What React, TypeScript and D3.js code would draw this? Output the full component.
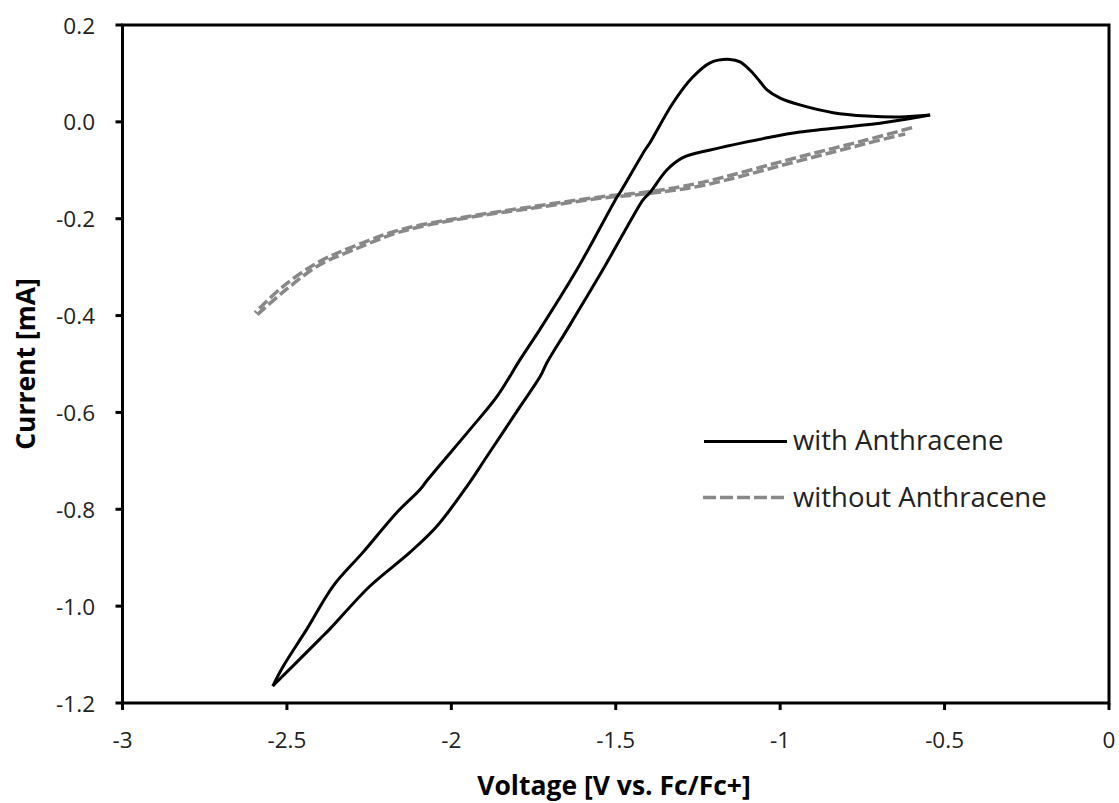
import React from "react";
import * as d3 from "d3";

const xTicks = [-3, -2.5, -2, -1.5, -1, -0.5, 0];
const yTicks = [0.2, 0.0, -0.2, -0.4, -0.6, -0.8, -1.0, -1.2];

// with Anthracene: forward scan (right end -> vertex)
const withFwdV = [-0.544, -0.687, -0.94, -1.04, -1.213, -1.296, -1.344, -1.396, -1.417, -1.448, -1.539, -1.648, -1.709, -1.73, -1.791, -1.892, -1.953, -2.044, -2.126, -2.248, -2.369, -2.4, -2.543];
const withFwdI = [0.014, -0.002, -0.021, -0.033, -0.058, -0.074, -0.099, -0.146, -0.161, -0.196, -0.305, -0.429, -0.497, -0.526, -0.588, -0.691, -0.753, -0.835, -0.889, -0.959, -1.047, -1.068, -1.165];
// with Anthracene: reverse scan (vertex -> right end)
const withRevV = [-2.543, -2.513, -2.439, -2.36, -2.269, -2.165, -2.095, -2.071, -1.943, -1.861, -1.791, -1.731, -1.618, -1.496, -1.487, -1.411, -1.396, -1.326, -1.265, -1.213, -1.153, -1.122, -1.092, -1.061, -1.04, -1.0, -0.94, -0.839, -0.736, -0.636, -0.544];
const withRevI = [-1.165, -1.126, -1.047, -0.959, -0.889, -0.806, -0.759, -0.738, -0.635, -0.567, -0.491, -0.429, -0.305, -0.155, -0.146, -0.058, -0.043, 0.039, 0.093, 0.122, 0.129, 0.124, 0.107, 0.083, 0.066, 0.049, 0.035, 0.019, 0.012, 0.01, 0.014];

// without Anthracene
const woFwdV = [-0.599, -0.736, -0.94, -1.244, -1.396, -1.548, -1.752, -1.953, -2.156, -2.308, -2.408, -2.512, -2.597];
const woFwdI = [-0.012, -0.037, -0.072, -0.126, -0.144, -0.155, -0.175, -0.196, -0.223, -0.26, -0.291, -0.34, -0.394];
const woRevV = [-2.59, -2.5, -2.4, -2.3, -2.15, -1.95, -1.75, -1.55, -1.4, -1.24, -0.94, -0.74, -0.62];
const woRevI = [-0.398, -0.345, -0.295, -0.265, -0.226, -0.198, -0.178, -0.158, -0.148, -0.132, -0.08, -0.045, -0.025];

const W = 1119;
const H = 803;
const L = 122.5, R = 1109, T = 25, B = 703;

export default function App() {
  const x = d3.scaleLinear().domain([-3, 0]).range([L, R]);
  const y = d3.scaleLinear().domain([-1.2, 0.2]).range([B, T]);
  const line = d3
    .line<[number, number]>()
    .x((d) => x(d[0]))
    .y((d) => y(d[1]))
    .curve(d3.curveCatmullRom.alpha(0.5));
  const zip = (a: number[], b: number[]) => a.map((v, i) => [v, b[i]] as [number, number]);
  const font = "'Open Sans', sans-serif";
  const gray = "#888888";
  return (
    <svg width={W} height={H} style={{ position: "absolute", left: 0, top: 0, background: "#fff" }}>
      <rect x={0} y={0} width={W} height={H} fill="#fff" />
      {/* data */}
      <path d={line(zip(woFwdV, woFwdI)) || ""} fill="none" stroke={gray} strokeWidth={3.5} strokeDasharray="11,4" />
      <path d={line(zip(woRevV, woRevI)) || ""} fill="none" stroke={gray} strokeWidth={3.5} strokeDasharray="11,4" />
      <path d={line(zip(withFwdV, withFwdI)) || ""} fill="none" stroke="#000" strokeWidth={3} strokeLinejoin="round" />
      <path d={line(zip(withRevV, withRevI)) || ""} fill="none" stroke="#000" strokeWidth={3} strokeLinejoin="round" />
      {/* frame */}
      <rect x={L} y={T} width={R - L} height={B - T} fill="none" stroke="#000" strokeWidth={3} />
      {/* x ticks */}
      {xTicks.map((t) => (
        <g key={"x" + t}>
          <line x1={x(t)} x2={x(t)} y1={B} y2={B + 7} stroke="#000" strokeWidth={3} />
          <text x={x(t)} y={748} textAnchor="middle" fontFamily={font} fontSize={22.5} fill="#222">
            {String(t)}
          </text>
        </g>
      ))}
      {/* y ticks */}
      {yTicks.map((t) => (
        <g key={"y" + t}>
          <line x1={L - 7} x2={L} y1={y(t)} y2={y(t)} stroke="#000" strokeWidth={3} />
          <text x={95} y={y(t) + 8.5} textAnchor="end" fontFamily={font} fontSize={22.5} fill="#222">
            {t.toFixed(1)}
          </text>
        </g>
      ))}
      {/* axis titles */}
      <text x={614} y={795} textAnchor="middle" fontFamily={font} fontSize={26.5} fontWeight="bold" fill="#000">
        Voltage [V vs. Fc/Fc+]
      </text>
      <text transform={`translate(35, ${(T + B) / 2}) rotate(-90)`} textAnchor="middle" fontFamily={font} fontSize={26.5} fontWeight="bold" fill="#000">
        Current [mA]
      </text>
      {/* legend */}
      <line x1={704} x2={787} y1={441.5} y2={441.5} stroke="#000" strokeWidth={3} />
      <text x={793} y={450} fontFamily={font} fontSize={27.5} fill="#222">with Anthracene</text>
      <line x1={703} x2={787} y1={497.5} y2={497.5} stroke={gray} strokeWidth={3.5} strokeDasharray="13,4" />
      <text x={793} y={507} fontFamily={font} fontSize={27.5} fill="#222">without Anthracene</text>
    </svg>
  );
}
